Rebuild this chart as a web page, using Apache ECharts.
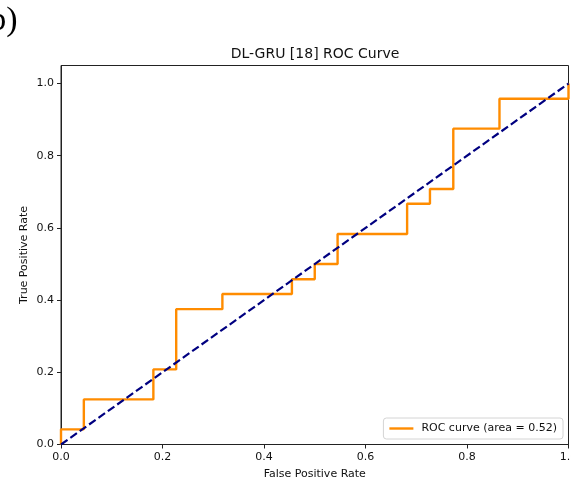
<!DOCTYPE html>
<html lang="en">
<head>
    <meta charset="UTF-8">
    <title>DL-GRU ROC</title>
    <style>
        html, body { margin: 0; padding: 0; background: #fff; }
    </style>
</head>
<body>
<div id="main" style="width: 571px;height:481px;"></div>
<script src="https://cdn.jsdelivr.net/npm/echarts@6/dist/echarts.min.js"></script>
<script>
    // ROC points (step curve)
    var fpr = [0, 0, 0.045, 0.045, 0.182, 0.182, 0.227, 0.227, 0.318, 0.318, 0.455, 0.455, 0.5,
        0.5, 0.545, 0.545, 0.682, 0.682, 0.727, 0.727, 0.773, 0.773, 0.864, 0.864, 1.0, 1.0];
    var tpr = [0, 0.042, 0.042, 0.125, 0.125, 0.208, 0.208, 0.375, 0.375, 0.417, 0.417, 0.458, 0.458,
        0.5, 0.5, 0.583, 0.583, 0.667, 0.667, 0.708, 0.708, 0.875, 0.875, 0.958, 0.958, 1.0];
    // chance line
    var chanceX = [0, 1];
    var chanceY = [0, 1];
    var xTicks = [0, 0.2, 0.4, 0.6, 0.8, 1.0];
    var yTicks = [0, 0.2, 0.4, 0.6, 0.8, 1.0];
    var rocName = 'ROC curve (area = 0.52)';

    var font = 'DejaVu Sans';
    var myChart = echarts.init(document.getElementById('main'));

    var rocData = fpr.map(function (x, i) { return [x, tpr[i]]; });
    var chanceData = chanceX.map(function (x, i) { return [x, chanceY[i]]; });

    var option = {
        backgroundColor: '#fff',
        animation: false,
        title: {
            text: 'DL-GRU [18] ROC Curve',
            left: 315,
            top: 47,
            padding: 0,
            textAlign: 'center',
            textStyle: { fontFamily: font, fontSize: 14, fontWeight: 'normal', color: '#111' }
        },
        graphic: [{
            type: 'text',
            left: -22,
            top: 4,
            style: { text: '(b)', fontFamily: 'Liberation Serif', fontSize: 34, fill: '#000' }
        }],
        grid: {
            left: 61, right: 2.5, top: 65.5, bottom: 36.5,
            outerBoundsMode: 'none',
            containLabel: false,
            show: true, borderColor: '#222', borderWidth: 1
        },
        legend: {
            data: [{ name: rocName, icon: 'rect' }],
            right: 8,
            bottom: 42,
            padding: [5, 6],
            itemWidth: 24,
            itemHeight: 2.4,
            itemGap: 5,
            borderColor: '#d4d4d4',
            borderWidth: 1,
            borderRadius: 3,
            backgroundColor: '#fff',
            textStyle: { fontFamily: font, fontSize: 11, color: '#111', padding: [0, 0, 0, 3] }
        },
        xAxis: {
            type: 'value',
            min: 0, max: 1, interval: 0.2,
            name: 'False Positive Rate',
            nameLocation: 'middle',
            nameGap: 24,
            nameMoveOverlap: false,
            nameTextStyle: { fontFamily: font, fontSize: 11, color: '#111' },
            axisLine: { show: true, lineStyle: { color: '#222', width: 1 } },
            axisTick: { show: true, inside: false, length: 4, lineStyle: { color: '#222' } },
            axisLabel: {
                margin: 7, fontFamily: font, fontSize: 11, color: '#111',
                formatter: function (v) { return xTicks.indexOf(+v.toFixed(1)) >= 0 ? v.toFixed(1) : ''; }
            },
            splitLine: { show: false }
        },
        yAxis: {
            type: 'value',
            min: 0, max: 1.05, interval: 0.2,
            name: 'True Positive Rate',
            nameLocation: 'middle',
            nameGap: 31,
            nameMoveOverlap: false,
            nameTextStyle: { fontFamily: font, fontSize: 11, color: '#111' },
            axisLine: { show: true, lineStyle: { color: '#222', width: 1 } },
            axisTick: { show: true, inside: false, length: 4, lineStyle: { color: '#222' } },
            axisLabel: {
                margin: 7, fontFamily: font, fontSize: 11, color: '#111', showMaxLabel: false,
                formatter: function (v) { return yTicks.indexOf(+v.toFixed(2)) >= 0 ? v.toFixed(1) : ''; }
            },
            splitLine: { show: false }
        },
        series: [
            {
                name: rocName,
                type: 'line',
                data: rocData,
                symbol: 'none',
                z: 2,
                lineStyle: { color: '#ff8c00', width: 2.4 },
                itemStyle: { color: '#ff8c00' }
            },
            {
                name: 'chance',
                type: 'line',
                data: chanceData,
                symbol: 'none',
                z: 3,
                lineStyle: { color: '#000080', width: 2.2, type: [8, 3.5] },
                itemStyle: { color: '#000080' }
            }
        ]
    };

    myChart.setOption(option);
</script>
</body>
</html>
